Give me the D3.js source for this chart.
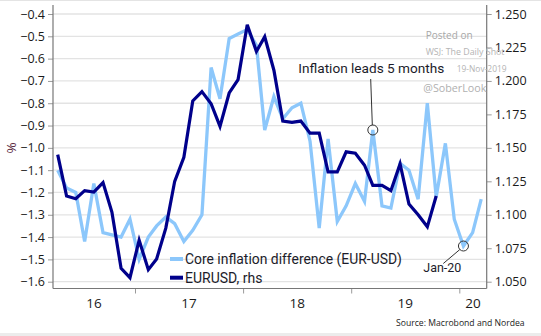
<!DOCTYPE html>
<html><head><meta charset="utf-8">
<script src="https://cdn.jsdelivr.net/npm/d3@7"></script>
<style>body{margin:0;background:#fff;} svg{display:block}</style>
</head><body><svg id="c" width="541" height="336"></svg>
<script>
const months = ["2016-04","2016-05","2016-06","2016-07","2016-08","2016-09","2016-10","2016-11","2016-12",
"2017-01","2017-02","2017-03","2017-04","2017-05","2017-06","2017-07","2017-08","2017-09","2017-10","2017-11","2017-12",
"2018-01","2018-02","2018-03","2018-04","2018-05","2018-06","2018-07","2018-08","2018-09","2018-10","2018-11","2018-12",
"2019-01","2019-02","2019-03","2019-04","2019-05","2019-06","2019-07","2019-08","2019-09","2019-10","2019-11","2019-12",
"2020-01","2020-02","2020-03"];
const coreDiff = [-1.10,-1.18,-1.20,-1.42,-1.16,-1.38,-1.39,-1.40,-1.32,-1.50,
-1.40,-1.35,-1.31,-1.34,-1.42,-1.37,-1.30,-0.64,-0.78,-0.51,
-0.49,-0.47,-0.54,-0.92,-0.77,-0.87,-0.82,-0.80,-0.97,-1.36,
-0.96,-1.33,-1.26,-1.16,-1.24,-0.92,-1.26,-1.27,-1.07,-1.10,
-1.23,-0.80,-1.22,-0.98,-1.32,-1.44,-1.38,-1.23];
const eurusd = [1.145,1.114,1.112,1.118,1.117,1.124,1.102,1.060,1.053,1.081,
1.059,1.067,1.090,1.125,1.143,1.185,1.192,1.183,1.166,1.191,
1.201,1.242,1.222,1.233,1.208,1.170,1.169,1.170,1.161,1.161,
1.132,1.132,1.147,1.146,1.137,1.122,1.122,1.118,1.138,1.108,
1.100,1.091,1.114];
const leftTicks = [-0.4,-0.5,-0.6,-0.7,-0.8,-0.9,-1.0,-1.1,-1.2,-1.3,-1.4,-1.5,-1.6];
const rightTicks = [1.250,1.225,1.200,1.175,1.150,1.125,1.100,1.075,1.050];
const yearTicks = ["2017-01-01","2018-01-01","2019-01-01","2020-01-01"];
const yearLabels = ["16","17","18","19","20"];
const seriesNames = ["Core inflation difference (EUR-USD)","EURUSD, rhs"];
const colors = ["#8cc7fb","#00008b"];

const svg = d3.select("#c");
const parseM = d3.utcParse("%Y-%m");
const parseD = d3.utcParse("%Y-%m-%d");
const dates = months.map(m => d3.utcDay.offset(parseM(m), 14));

const L = 53, R = 486.7, T = 5, B = 288.5;
const x = d3.scaleUtc().domain([parseD("2017-01-01"), parseD("2020-01-01")]).range([135, 459.3]);
const yL = d3.scaleLinear().domain([-1.6, -0.4]).range([281.7, 14]);
const yR = d3.scaleLinear().domain([1.05, 1.25]).range([281.7, 14]);

// frame bits
svg.append("line").attr("x1",0).attr("x2",541).attr("y1",0.5).attr("y2",0.5).attr("stroke","#e4e4e4");
svg.append("rect").attr("x",0).attr("y",333).attr("width",541).attr("height",3).attr("fill","#ececec");

// gridlines
svg.append("g").selectAll("line").data(leftTicks).join("line")
  .attr("x1", L).attr("x2", R).attr("y1", d => yL(d)).attr("y2", d => yL(d))
  .attr("stroke", "#e3e3e3").attr("stroke-width", 1.3);

// axes
const axL = svg.append("g").attr("transform", `translate(${L},0)`)
  .call(d3.axisLeft(yL).tickValues(leftTicks).tickFormat(d3.format(".1f")).tickSize(5).tickPadding(3));
const axR = svg.append("g").attr("transform", `translate(${R},0)`)
  .call(d3.axisRight(yR).tickValues(rightTicks).tickFormat(d3.format(".3f")).tickSize(5).tickPadding(3));
const axB = svg.append("g").attr("transform", `translate(0,${B})`)
  .call(d3.axisBottom(x).tickValues(yearTicks.map(parseD)).tickFormat("").tickSize(5));
[axL, axR, axB].forEach(g => {
  g.select(".domain").remove();
  g.selectAll(".tick line").attr("stroke", "#9a9a9a");
  g.selectAll("text").attr("fill", "#1a1a1a").style("font-family", "'Open Sans', sans-serif").style("font-size", "12.5px");
});
svg.append("line").attr("x1",L).attr("x2",L).attr("y1",T).attr("y2",B).attr("stroke","#777").attr("stroke-width",1.2);
svg.append("line").attr("x1",R).attr("x2",R).attr("y1",T).attr("y2",B).attr("stroke","#777").attr("stroke-width",1.2);
svg.append("line").attr("x1",L).attr("x2",R).attr("y1",B).attr("y2",B).attr("stroke","#777").attr("stroke-width",1.2);

// year labels centered on visible portion
const bounds = [x.invert(L), ...yearTicks.map(parseD), x.invert(R)];
svg.append("g").selectAll("text").data(yearLabels).join("text")
  .attr("x", (d, i) => (x(bounds[i]) + x(bounds[i + 1])) / 2)
  .attr("y", 308).attr("text-anchor", "middle")
  .style("font-family", "'Open Sans', sans-serif").style("font-size", "13.5px").attr("fill", "#1a1a1a")
  .text(d => d);

// % label
svg.append("text").attr("transform", "translate(16,148) rotate(-90)").attr("text-anchor", "middle")
  .style("font-family", "'Open Sans', sans-serif").style("font-size", "13.5px").attr("fill", "#5a2a3e").text("%");

// lines
const lineL = d3.line().x((d, i) => x(dates[i])).y(d => yL(d));
const lineR = d3.line().x((d, i) => x(dates[i])).y(d => yR(d));
svg.append("path").datum(coreDiff).attr("d", lineL).attr("fill", "none").attr("stroke", colors[0]).attr("stroke-width", 3.3);
svg.append("path").datum(eurusd).attr("d", lineR).attr("fill", "none").attr("stroke", colors[1]).attr("stroke-width", 3.2);

// helper to fit text width
function fitText(sel, w) {
  const node = sel.node();
  const len = node.getComputedTextLength();
  const fs = parseFloat(sel.style("font-size"));
  sel.style("font-size", (fs * w / len).toFixed(2) + "px");
  return sel;
}
const font2 = "Roboto, sans-serif";

// legend
const legY = [259, 277.7];
seriesNames.forEach((n, i) => {
  svg.append("line").attr("x1", 170).attr("x2", 183).attr("y1", legY[i]).attr("y2", legY[i])
    .attr("stroke", colors[i]).attr("stroke-width", 4);
  const t = svg.append("text").attr("x", 185).attr("y", legY[i] + 5)
    .style("font-family", font2).style("font-size", "14px").attr("fill", "#1c1c2a").text(n);
  fitText(t, i === 0 ? 217 : 77.5);
});

// annotations
const iMar19 = months.indexOf("2019-03"), iJan20 = months.indexOf("2020-01");
const c1 = [x(dates[iMar19]), yL(coreDiff[iMar19])];
const c2 = [x(dates[iJan20]), yL(coreDiff[iJan20])];
svg.append("circle").attr("cx", c1[0]).attr("cy", c1[1]).attr("r", 5).attr("fill", "none").attr("stroke", "#333").attr("stroke-width", 1);
svg.append("circle").attr("cx", c2[0]).attr("cy", c2[1]).attr("r", 5).attr("fill", "none").attr("stroke", "#333").attr("stroke-width", 1);
svg.append("line").attr("x1", 370.7).attr("y1", 79).attr("x2", c1[0] - 0.5).attr("y2", c1[1] - 5).attr("stroke", "#333").attr("stroke-width", 1);
svg.append("line").attr("x1", 443.3).attr("y1", 263.5).attr("x2", c2[0] - 3.6).attr("y2", c2[1] + 3.5).attr("stroke", "#333").attr("stroke-width", 1);
fitText(svg.append("text").attr("x", 298.3).attr("y", 73).style("font-family", font2).style("font-size", "14px")
  .attr("fill", "#1c1c2a").text("Inflation leads 5 months"), 146);
fitText(svg.append("text").attr("x", 423.3).attr("y", 271.5).style("font-family", font2).style("font-size", "13.5px")
  .attr("fill", "#1c1c2a").text("Jan-20"), 38);

// watermark
const wm = [["Posted on", 425.7, 39, 47, "#a8a8a8"], ["WSJ: The Daily Shot", 425.7, 54.5, 79, "#b4b4b4"],
            ["19-Nov-2019", 456.7, 71.5, 50, "#b4b4b4"], ["@SoberLook", 423.3, 92, 63, "#b0b0b0"]];
wm.forEach(([s, xx, yy, w, c]) => {
  fitText(svg.append("text").attr("x", xx).attr("y", yy).style("font-family", "'Open Sans', sans-serif")
    .style("font-size", "11px").attr("fill", c).text(s), w);
});

// source
fitText(svg.append("text").attr("x", 396).attr("y", 326).style("font-family", "'Open Sans', sans-serif")
  .style("font-size", "10px").attr("fill", "#222").text("Source: Macrobond and Nordea"), 129);
</script>
</body></html>
